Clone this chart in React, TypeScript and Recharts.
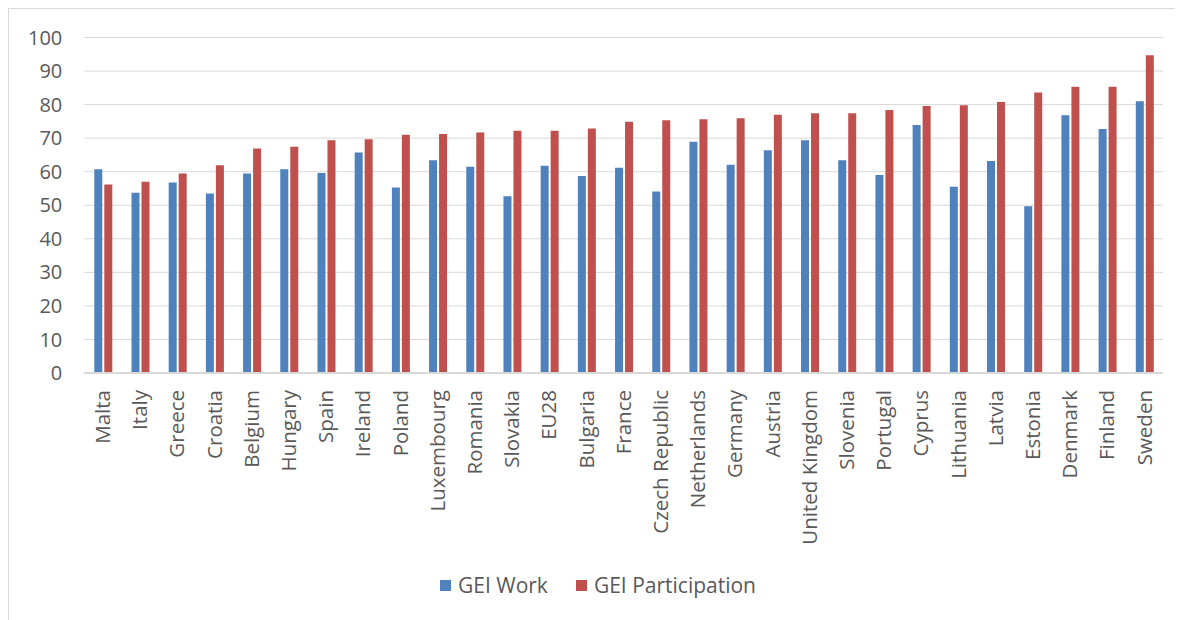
import React from "react";
import { BarChart, Bar, XAxis, YAxis, CartesianGrid, Legend } from "recharts";

const countries = [
  "Malta", "Italy", "Greece", "Croatia", "Belgium", "Hungary", "Spain", "Ireland", "Poland",
  "Luxembourg", "Romania", "Slovakia", "EU28", "Bulgaria", "France", "Czech Republic",
  "Netherlands", "Germany", "Austria", "United Kingdom", "Slovenia", "Portugal", "Cyprus",
  "Lithuania", "Latvia", "Estonia", "Denmark", "Finland", "Sweden",
];
const geiWork = [
  60.7, 53.7, 56.8, 53.5, 59.5, 60.7, 59.6, 65.7, 55.3, 63.4, 61.5, 52.7, 61.8, 58.7, 61.2,
  54.1, 68.9, 62.1, 66.4, 69.4, 63.4, 59.0, 73.9, 55.5, 63.2, 49.7, 76.8, 72.7, 81.0,
];
const geiParticipation = [
  56.2, 57.0, 59.5, 61.9, 66.9, 67.4, 69.4, 69.7, 71.0, 71.2, 71.7, 72.2, 72.2, 72.9, 74.9,
  75.3, 75.6, 75.9, 77.0, 77.4, 77.4, 78.4, 79.6, 79.8, 80.8, 83.6, 85.3, 85.3, 94.7,
];
const yTicks = [0, 10, 20, 30, 40, 50, 60, 70, 80, 90, 100];

const data = countries.map((c, i) => ({
  country: c,
  work: geiWork[i],
  participation: geiParticipation[i],
}));

const FONT = "'Open Sans', sans-serif";
const BLUE = "#4F81BD";
const RED = "#C0504D";
const TEXT = "#595959";

const XTick = (props: any) => {
  const { x, y, payload } = props;
  const ty = y + 17;
  return (
    <text
      x={x}
      y={ty}
      transform={`rotate(-90, ${x}, ${ty})`}
      textAnchor="end"
      dy="0.35em"
      fill={TEXT}
      fontSize={20.5}
      fontFamily={FONT}
    >
      {payload.value}
    </text>
  );
};

const LegendContent = () => {
  const items = [
    { label: "GEI Work", color: BLUE },
    { label: "GEI Participation", color: RED },
  ];
  return (
    <div style={{ display: "flex", justifyContent: "center", gap: 28, fontFamily: FONT, fontSize: 21, color: TEXT, lineHeight: "24px" }}>
      {items.map((it) => (
        <div key={it.label} style={{ display: "flex", alignItems: "center" }}>
          <span style={{ width: 11, height: 11, background: it.color, display: "inline-block", marginRight: 7 }} />
          <span>{it.label}</span>
        </div>
      ))}
    </div>
  );
};

export default function App() {
  return (
    <div style={{ width: 1180, height: 620, border: "1px solid #d9d9d9", boxSizing: "border-box", background: "#fff" }}>
      <BarChart
        width={1178}
        height={618}
        data={data}
        margin={{ top: 28.5, right: 24, left: 0, bottom: 0 }}
        barSize={8}
        barGap={2}
      >
        <CartesianGrid vertical={false} stroke="#d9d9d9" strokeWidth={1} />
        <XAxis
          dataKey="country"
          interval={0}
          tickLine={false}
          tickSize={0}
          tickMargin={0}
          axisLine={{ stroke: "#d9d9d9", strokeWidth: 2 }}
          tick={<XTick />}
          height={230}
        />
        <YAxis
          domain={[0, 100]}
          ticks={yTicks}
          width={75.3}
          axisLine={false}
          tickLine={false}
          tickSize={0}
          tickMargin={22}
          tick={{ fill: TEXT, fontSize: 20, fontFamily: FONT }}
        />
        <Legend
          content={<LegendContent />}
          wrapperStyle={{ top: 564, left: 0, width: 1178 }}
        />
        <Bar dataKey="work" name="GEI Work" fill={BLUE} isAnimationActive={false} />
        <Bar dataKey="participation" name="GEI Participation" fill={RED} isAnimationActive={false} />
      </BarChart>
    </div>
  );
}
